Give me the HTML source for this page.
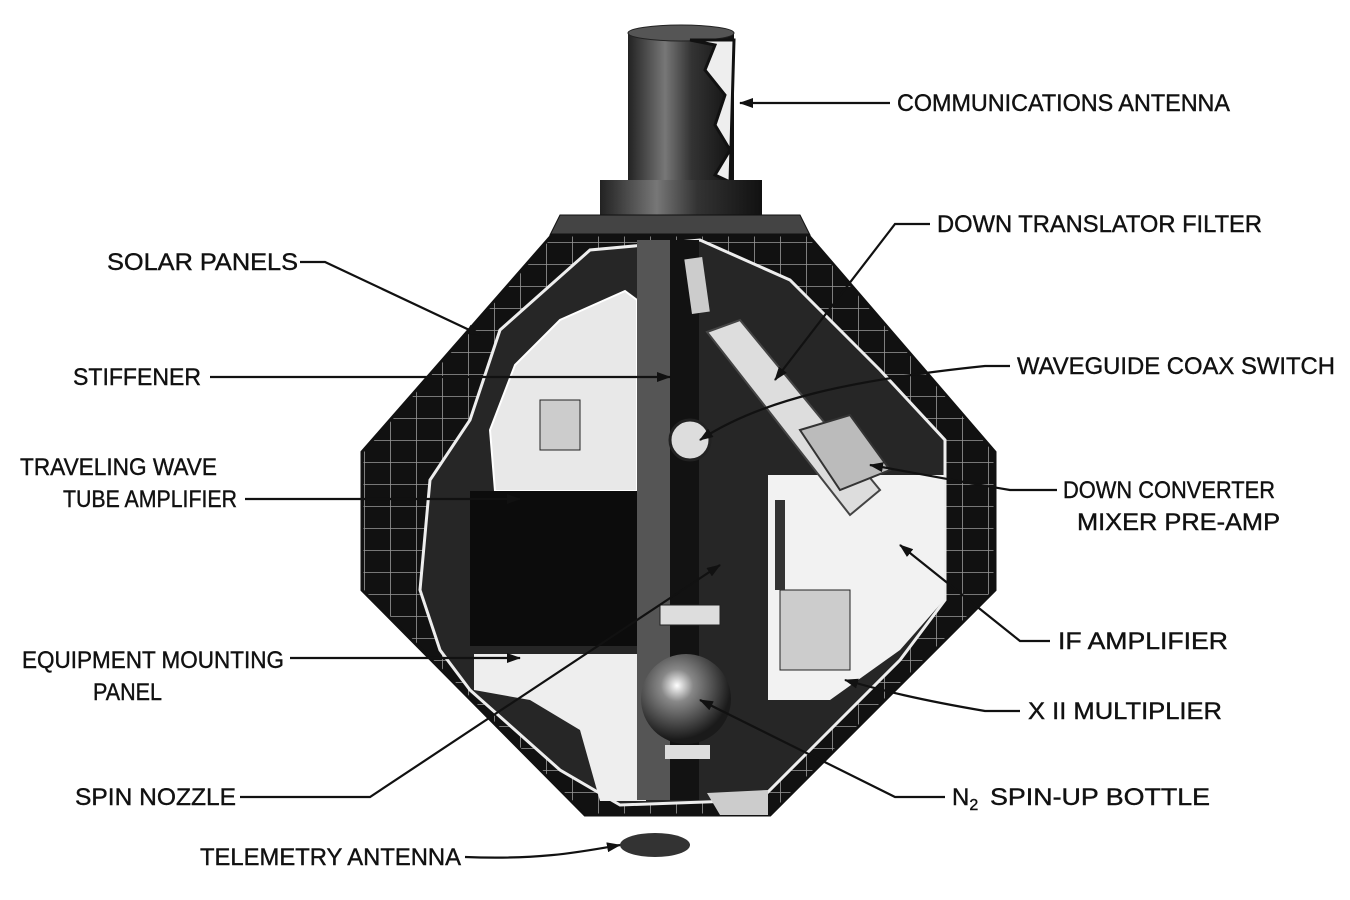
<!DOCTYPE html>
<html><head><meta charset="utf-8"><style>
html,body{margin:0;padding:0;background:#fff;width:1350px;height:900px;overflow:hidden}
text{font-family:"Liberation Sans",sans-serif;font-size:24px;fill:#111;stroke:#111;stroke-width:0.4}
</style></head><body>
<svg width="1350" height="900" viewBox="0 0 1350 900" xmlns="http://www.w3.org/2000/svg">
<defs>
<pattern id="grid" width="26" height="22" patternUnits="userSpaceOnUse">
<rect width="26" height="22" fill="#111"/>
<path d="M0 0H26M0 0V22" stroke="#999" stroke-width="1.6"/>
</pattern>
<linearGradient id="cyl" x1="0" x2="1">
<stop offset="0" stop-color="#222"/><stop offset="0.35" stop-color="#777"/><stop offset="0.6" stop-color="#333"/><stop offset="1" stop-color="#111"/>
</linearGradient>
<radialGradient id="sph" cx="0.4" cy="0.35" r="0.6"><stop offset="0" stop-color="#fff"/><stop offset="0.3" stop-color="#888"/><stop offset="1" stop-color="#1a1a1a"/></radialGradient>
<marker id="ah" markerWidth="14" markerHeight="10" refX="13" refY="5" orient="auto" markerUnits="userSpaceOnUse">
<path d="M0 0 L14 5 L0 10Z" fill="#111"/></marker>
</defs>
<!-- antenna -->
<rect x="628" y="32" width="106" height="150" fill="url(#cyl)"/>
<ellipse cx="681" cy="33" rx="53" ry="8" fill="#555" stroke="#222"/>
<path d="M690 40 L715 45 L705 70 L725 95 L715 125 L730 150 L715 175 L730 182 L734 40Z" fill="#eee" stroke="#111" stroke-width="3"/>
<rect x="600" y="180" width="162" height="35" fill="url(#cyl)"/>
<path d="M560 215 L800 215 L810 235 L550 235Z" fill="#444" stroke="#111"/>
<!-- body -->
<path d="M552 235 L808 235 L995 452 L995 590 L770 815 L585 815 L362 590 L362 452Z" fill="url(#grid)" stroke="#111" stroke-width="3"/>
<!-- cutaway interior (dark) -->
<path d="M500 330 L590 250 L700 240 L790 280 L880 370 L945 440 L945 600 L900 660 L820 740 L760 800 L620 805 L560 770 L470 690 L440 650 L420 590 L430 480 L470 420Z" fill="#262626" stroke="#eee" stroke-width="3"/>
<!-- white areas -->
<path d="M515 365 L560 320 L625 291 L637 300 L637 491 L495 491 L490 430Z" fill="#e8e8e8" stroke="#fff" stroke-width="2"/>
<path d="M474 654 L646 654 L646 801 L600 801 L580 730 L530 700 L474 690Z" fill="#eee"/>
<path d="M768 475 L944 475 L944 600 L900 650 L830 700 L768 700Z" fill="#f2f2f2"/>
<path d="M707 332 L740 320 L880 490 L850 515Z" fill="#ddd" stroke="#444" stroke-width="2"/>
<path d="M800 430 L850 415 L890 470 L840 490Z" fill="#bbb" stroke="#333" stroke-width="2"/>
<!-- black box TWTA -->
<rect x="470" y="491" width="167" height="155" fill="#0c0c0c"/>
<!-- column -->
<rect x="637" y="240" width="33" height="560" fill="#555"/>
<rect x="670" y="240" width="29" height="560" fill="#121212"/>
<rect x="688" y="258" width="18" height="55" fill="#ccc" transform="rotate(-8 697 285)"/>
<!-- components -->
<rect x="540" y="400" width="40" height="50" fill="#ccc" stroke="#222"/>
<circle cx="690" cy="440" r="20" fill="#ddd" stroke="#222" stroke-width="3"/>
<rect x="660" y="605" width="60" height="20" fill="#ddd" stroke="#222"/>
<circle cx="686" cy="699" r="45" fill="url(#sph)"/>
<rect x="665" y="745" width="45" height="14" fill="#ddd"/>
<rect x="780" y="590" width="70" height="80" fill="#ccc" stroke="#222"/>
<rect x="775" y="500" width="10" height="90" fill="#333"/>
<path d="M707 793 L768 790 L768 815 L720 815Z" fill="#ccc"/>
<ellipse cx="655" cy="845" rx="35" ry="12" fill="#333"/>
<!-- leader lines -->
<g stroke="#111" stroke-width="2.2" fill="none" marker-end="url(#ah)">
<path d="M890 103 L740 103"/>
<path d="M930 224 L895 224 L775 380"/>
<path d="M300 262 L325 262 L480 335"/>
<path d="M1010 366 L985 366 C850 380 760 400 700 440"/>
<path d="M210 377 L670 377"/>
<path d="M245 499 L520 499"/>
<path d="M1057 490 L1010 490 C950 480 900 470 870 465"/>
<path d="M290 658 L520 658"/>
<path d="M1050 641 L1020 641 L900 545"/>
<path d="M1020 711 L985 711 C920 700 880 690 845 680"/>
<path d="M240 797 L370 797 L720 565"/>
<path d="M945 797 L895 797 L700 700"/>
<path d="M465 857 C540 860 580 852 620 845"/>
</g>
<!-- labels -->
<text x="897" y="111" textLength="333" lengthAdjust="spacingAndGlyphs">COMMUNICATIONS ANTENNA</text>
<text x="937" y="232" textLength="325" lengthAdjust="spacingAndGlyphs">DOWN TRANSLATOR FILTER</text>
<text x="107" y="270" textLength="191" lengthAdjust="spacingAndGlyphs">SOLAR PANELS</text>
<text x="1017" y="374" textLength="318" lengthAdjust="spacingAndGlyphs">WAVEGUIDE COAX SWITCH</text>
<text x="73" y="385" textLength="128" lengthAdjust="spacingAndGlyphs">STIFFENER</text>
<text x="20" y="475" textLength="197" lengthAdjust="spacingAndGlyphs">TRAVELING WAVE</text>
<text x="63" y="507" textLength="174" lengthAdjust="spacingAndGlyphs">TUBE AMPLIFIER</text>
<text x="1063" y="498" textLength="212" lengthAdjust="spacingAndGlyphs">DOWN CONVERTER</text>
<text x="1077" y="530" textLength="203" lengthAdjust="spacingAndGlyphs">MIXER PRE-AMP</text>
<text x="22" y="668" textLength="262" lengthAdjust="spacingAndGlyphs">EQUIPMENT MOUNTING</text>
<text x="93" y="700" textLength="69" lengthAdjust="spacingAndGlyphs">PANEL</text>
<text x="1058" y="649" textLength="170" lengthAdjust="spacingAndGlyphs">IF AMPLIFIER</text>
<text x="1028" y="719" textLength="194" lengthAdjust="spacingAndGlyphs">X II MULTIPLIER</text>
<text x="75" y="805" textLength="161" lengthAdjust="spacingAndGlyphs">SPIN NOZZLE</text>
<text x="952" y="805">N<tspan font-size="16" dy="5">2</tspan></text>
<text x="990" y="805" textLength="220" lengthAdjust="spacingAndGlyphs">SPIN-UP BOTTLE</text>
<text x="200" y="865" textLength="261" lengthAdjust="spacingAndGlyphs">TELEMETRY ANTENNA</text>
</svg>
</body></html>
